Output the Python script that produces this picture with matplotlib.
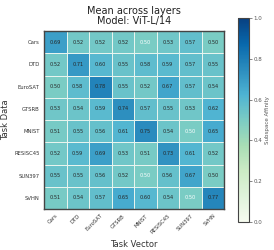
import matplotlib
matplotlib.use("Agg")
import matplotlib.pyplot as plt
import numpy as np

tasks = ["Cars", "DTD", "EuroSAT", "GTSRB", "MNIST", "RESISC45", "SUN397", "SVHN"]
values = [
    [0.69, 0.52, 0.52, 0.52, 0.50, 0.53, 0.57, 0.50],
    [0.52, 0.71, 0.60, 0.55, 0.58, 0.59, 0.57, 0.55],
    [0.50, 0.58, 0.78, 0.55, 0.52, 0.67, 0.57, 0.54],
    [0.53, 0.54, 0.59, 0.74, 0.57, 0.55, 0.53, 0.62],
    [0.51, 0.55, 0.56, 0.61, 0.75, 0.54, 0.50, 0.65],
    [0.52, 0.59, 0.69, 0.53, 0.51, 0.73, 0.61, 0.52],
    [0.55, 0.55, 0.56, 0.52, 0.50, 0.56, 0.67, 0.50],
    [0.51, 0.54, 0.57, 0.65, 0.60, 0.54, 0.50, 0.77],
]
white_text = [(0, 4), (4, 6), (6, 4), (7, 6)]

data = np.array(values)
n = len(tasks)

fig = plt.figure(figsize=(2.74, 2.5), dpi=100)
ax = fig.add_axes([44/274, 1 - 209/250, 180/274, 178/250])
cax = fig.add_axes([238/274, 1 - 222/250, 11/274, 204/250])

mesh = ax.pcolormesh(np.arange(n + 1), np.arange(n + 1), data, cmap="GnBu",
                     vmin=0, vmax=1, edgecolor="#e8f4ee", linewidth=0.5)
ax.set_xlim(0, n)
ax.set_ylim(n, 0)
for i in range(n):
    for j in range(n):
        c = "white" if (i, j) in white_text else "#262626"
        ax.text(j + 0.5, i + 0.5, f"{data[i, j]:.2f}", ha="center", va="center",
                fontsize=3.6, color=c)

ax.set_xticks(np.arange(n) + 0.5)
ax.set_yticks(np.arange(n) + 0.5)
ax.set_xticklabels(tasks, rotation=45, ha="right", rotation_mode="anchor", fontsize=3.8, color="#333333")
ax.set_yticklabels(tasks, fontsize=3.8, color="#333333")
ax.tick_params(length=0, pad=3)
for s in ax.spines.values():
    s.set_color("#444444")
    s.set_linewidth(1.0)
ax.set_xlabel("Task Vector", fontsize=6, color="#333333", labelpad=4)
ax.set_ylabel("Task Data", fontsize=6, color="#333333", labelpad=3)
ax.set_title("Mean across layers\nModel: ViT-L/14", fontsize=7, color="#222222", pad=5, linespacing=1.05)

cb = fig.colorbar(mesh, cax=cax)
cb.set_ticks([0, 0.2, 0.4, 0.6, 0.8, 1.0])
cb.ax.tick_params(labelsize=4, length=2, width=0.5, color="#555555", labelcolor="#555555", pad=1)
cb.outline.set_edgecolor("#444444")
cb.outline.set_linewidth(0.8)
cb.set_label("Subspace Affinity", fontsize=4, color="#555555", labelpad=2)

fig.savefig("out.png", dpi=100)
